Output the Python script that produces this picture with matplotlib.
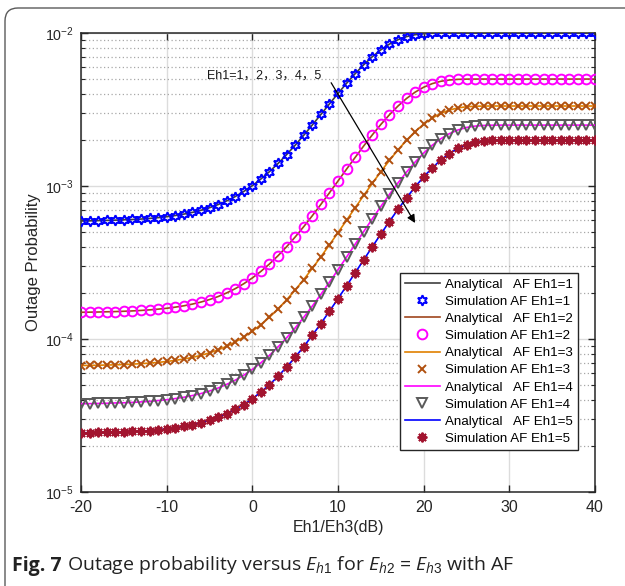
import matplotlib.pyplot as plt
import matplotlib as mpl
from matplotlib.patches import FancyBboxPatch
from matplotlib.ticker import LogLocator, NullFormatter, LogFormatterSciNotation, MultipleLocator

mpl.rc('font', family=['Liberation Sans', 'DejaVu Sans'])
mpl.rc('mathtext', fontset='custom', rm='Liberation Sans', it='Open Sans:italic')
mpl.rc('axes', unicode_minus=False)

# Eh1/Eh3 in dB
snr_db = list(range(-20, 41))

outage_eh1_1 = [
    5.91e-4, 5.92e-4, 5.94e-4, 5.96e-4, 5.98e-4, 6.01e-4, 6.04e-4, 6.08e-4, 6.14e-4, 6.21e-4,
    6.30e-4, 6.41e-4, 6.55e-4, 6.72e-4, 6.94e-4, 7.21e-4, 7.56e-4, 7.99e-4, 8.53e-4, 9.21e-4,
    1.005e-3, 1.111e-3, 1.241e-3, 1.403e-3, 1.603e-3, 1.847e-3, 2.145e-3, 2.505e-3, 2.934e-3, 3.440e-3,
    4.025e-3, 4.689e-3, 5.420e-3, 6.199e-3, 6.995e-3, 7.764e-3, 8.459e-3, 9.035e-3, 9.466e-3, 9.745e-3,
    9.900e-3, 9.969e-3, 9.993e-3, 9.999e-3, 1.0e-2, 1.0e-2, 1.0e-2, 1.0e-2, 1.0e-2, 1.0e-2,
    1.0e-2, 1.0e-2, 1.0e-2, 1.0e-2, 1.0e-2, 1.0e-2, 1.0e-2, 1.0e-2, 1.0e-2, 1.0e-2, 1.0e-2,
]
outage_eh1_2 = [
    1.495e-4, 1.498e-4, 1.501e-4, 1.506e-4, 1.511e-4, 1.518e-4, 1.526e-4, 1.537e-4, 1.550e-4, 1.567e-4,
    1.588e-4, 1.615e-4, 1.648e-4, 1.691e-4, 1.744e-4, 1.810e-4, 1.894e-4, 2.000e-4, 2.132e-4, 2.298e-4,
    2.506e-4, 2.767e-4, 3.094e-4, 3.501e-4, 4.010e-4, 4.642e-4, 5.425e-4, 6.392e-4, 7.580e-4, 9.029e-4,
    1.078e-3, 1.289e-3, 1.537e-3, 1.827e-3, 2.157e-3, 2.524e-3, 2.920e-3, 3.330e-3, 3.733e-3, 4.105e-3,
    4.422e-3, 4.667e-3, 4.834e-3, 4.930e-3, 4.977e-3, 4.994e-3, 4.999e-3, 5.0e-3, 5.0e-3, 5.0e-3,
    5.0e-3, 5.0e-3, 5.0e-3, 5.0e-3, 5.0e-3, 5.0e-3, 5.0e-3, 5.0e-3, 5.0e-3, 5.0e-3, 5.0e-3,
]
outage_eh1_3 = [
    6.71e-5, 6.72e-5, 6.74e-5, 6.76e-5, 6.78e-5, 6.81e-5, 6.85e-5, 6.90e-5, 6.96e-5, 7.03e-5,
    7.13e-5, 7.25e-5, 7.40e-5, 7.58e-5, 7.82e-5, 8.12e-5, 8.49e-5, 8.96e-5, 9.56e-5, 1.030e-4,
    1.124e-4, 1.241e-4, 1.388e-4, 1.572e-4, 1.802e-4, 2.090e-4, 2.448e-4, 2.893e-4, 3.445e-4, 4.124e-4,
    4.958e-4, 5.975e-4, 7.202e-4, 8.668e-4, 1.040e-3, 1.241e-3, 1.469e-3, 1.721e-3, 1.990e-3, 2.266e-3,
    2.535e-3, 2.779e-3, 2.983e-3, 3.137e-3, 3.238e-3, 3.295e-3, 3.321e-3, 3.330e-3, 3.333e-3, 3.333e-3,
    3.333e-3, 3.333e-3, 3.333e-3, 3.333e-3, 3.333e-3, 3.333e-3, 3.333e-3, 3.333e-3, 3.333e-3, 3.333e-3, 3.333e-3,
]
outage_eh1_4 = [
    3.78e-5, 3.78e-5, 3.79e-5, 3.80e-5, 3.82e-5, 3.83e-5, 3.85e-5, 3.88e-5, 3.91e-5, 3.96e-5,
    4.01e-5, 4.08e-5, 4.16e-5, 4.27e-5, 4.40e-5, 4.57e-5, 4.78e-5, 5.05e-5, 5.38e-5, 5.80e-5,
    6.33e-5, 6.99e-5, 7.82e-5, 8.87e-5, 1.018e-4, 1.181e-4, 1.386e-4, 1.641e-4, 1.957e-4, 2.350e-4,
    2.835e-4, 3.432e-4, 4.159e-4, 5.039e-4, 6.097e-4, 7.347e-4, 8.805e-4, 1.047e-3, 1.233e-3, 1.433e-3,
    1.641e-3, 1.846e-3, 2.036e-3, 2.198e-3, 2.325e-3, 2.412e-3, 2.463e-3, 2.487e-3, 2.497e-3, 2.499e-3,
    2.5e-3, 2.5e-3, 2.5e-3, 2.5e-3, 2.5e-3, 2.5e-3, 2.5e-3, 2.5e-3, 2.5e-3, 2.5e-3, 2.5e-3,
]
outage_eh1_5 = [
    2.44e-5, 2.44e-5, 2.45e-5, 2.45e-5, 2.46e-5, 2.47e-5, 2.49e-5, 2.50e-5, 2.52e-5, 2.55e-5,
    2.59e-5, 2.63e-5, 2.68e-5, 2.75e-5, 2.84e-5, 2.95e-5, 3.08e-5, 3.25e-5, 3.47e-5, 3.73e-5,
    4.07e-5, 4.50e-5, 5.03e-5, 5.70e-5, 6.55e-5, 7.60e-5, 8.92e-5, 1.057e-4, 1.262e-4, 1.518e-4,
    1.835e-4, 2.226e-4, 2.706e-4, 3.292e-4, 4.002e-4, 4.852e-4, 5.860e-4, 7.033e-4, 8.374e-4, 9.864e-4,
    1.147e-3, 1.314e-3, 1.478e-3, 1.630e-3, 1.761e-3, 1.861e-3, 1.930e-3, 1.971e-3, 1.990e-3, 1.998e-3,
    2.0e-3, 2.0e-3, 2.0e-3, 2.0e-3, 2.0e-3, 2.0e-3, 2.0e-3, 2.0e-3, 2.0e-3, 2.0e-3, 2.0e-3,
]

curves = [outage_eh1_1, outage_eh1_2, outage_eh1_3, outage_eh1_4, outage_eh1_5]
line_colors = ['#404040', '#A0461E', '#E08000', '#FF00FF', '#0000FF']
marker_colors = ['#0000FF', '#FF00FF', '#B0500F', '#5A5A5A', '#A2142F']
markers = [(6, 1, 0), 'o', 'x', 'v', (8, 2, 0)]
marker_sizes = [7.5, 7, 6, 7, 7]

fig = plt.figure(figsize=(6.25, 5.86), dpi=100)
ax = fig.add_axes([0.1296, 0.1604, 0.8224, 0.7833])

handles = []
for i, (vals, lc, mc, mk, ms) in enumerate(zip(curves, line_colors, marker_colors, markers, marker_sizes)):
    ln, = ax.plot(snr_db, vals, color=lc, lw=1.2, zorder=3,
                  label=f'Analytical   AF Eh1={i + 1}')
    sc, = ax.plot(snr_db, vals, ls='none', marker=mk, ms=ms, mfc='none',
                  mec=mc, mew=1.4, zorder=4, label=f'Simulation AF Eh1={i + 1}')
    handles += [ln, sc]

ax.set_yscale('log')
ax.set_xlim(-20, 40)
ax.set_ylim(1e-5, 1e-2)
ax.xaxis.set_major_locator(MultipleLocator(10))
ax.yaxis.set_major_locator(LogLocator(base=10))
ax.yaxis.set_minor_locator(LogLocator(base=10, subs=range(2, 10)))
ax.yaxis.set_minor_formatter(NullFormatter())
ax.yaxis.set_major_formatter(LogFormatterSciNotation())

ax.grid(True, which='major', color='#DCDCDC', lw=1, ls='-', zorder=0)
ax.grid(True, which='minor', axis='y', color='#A8A8A8', lw=0.9, ls=(0, (1, 2)))
ax.set_axisbelow(True)

ax.tick_params(which='both', direction='in', top=True, right=True,
               color='#262626', labelcolor='#262626')
ax.tick_params(which='major', length=5, width=1)
ax.tick_params(which='minor', length=3, width=0.8)
ax.tick_params(axis='x', pad=6, labelsize=11.5)
ax.tick_params(axis='y', pad=5, labelsize=10.3)
for sp in ax.spines.values():
    sp.set_linewidth(1.1)
    sp.set_color('#262626')

ax.set_xlabel('Eh1/Eh3(dB)', fontsize=11.5, color='#262626', labelpad=3)
ax.set_ylabel('Outage Probability', fontsize=12, color='#262626', labelpad=3)

ax.annotate('', xy=(19.0, 5.73e-4), xytext=(9.2, 4.73e-3),
            arrowprops=dict(arrowstyle='-|>', color='k', lw=0.9, mutation_scale=12,
                            shrinkA=0, shrinkB=0), zorder=6)
ax.text(-5.3, 5.24e-3, 'Eh1=1，2，3，4，5', fontsize=9, va='center',
        family=['Liberation Sans', 'Noto Sans CJK SC'], color='#1A1A1A', zorder=6)

leg = ax.legend(handles=handles, loc='upper left', bbox_to_anchor=(0.62, 0.477),
                borderaxespad=0, fontsize=9.6, frameon=True, fancybox=False,
                edgecolor='#262626', framealpha=1, handlelength=2.6,
                handletextpad=0.4, labelspacing=0.36, borderpad=0.4)
leg.get_frame().set_linewidth(1)
leg.set_zorder(10)

# rounded panel border
frame = FancyBboxPatch((0.05, -1.0), 7.0, 6.78, boxstyle='round,pad=0,rounding_size=0.13',
                       transform=fig.dpi_scale_trans, facecolor='none',
                       edgecolor='#5A5A5A', lw=1.0, clip_on=False)
fig.add_artist(frame)

cap1 = fig.text(12 / 625, 1 - 571 / 586, 'Fig. 7', fontsize=14, fontweight='bold',
                family='Open Sans', va='baseline', color='#222222')
ax.annotate(r'Outage probability versus $E_{h1}$ for $E_{h2}$ = $E_{h3}$ with AF',
            xy=(1, 0), xycoords=cap1, xytext=(4, 0), textcoords='offset points',
            fontsize=14, family='Open Sans', va='bottom', color='#222222',
            annotation_clip=False)

fig.savefig('out.png', dpi=100)
